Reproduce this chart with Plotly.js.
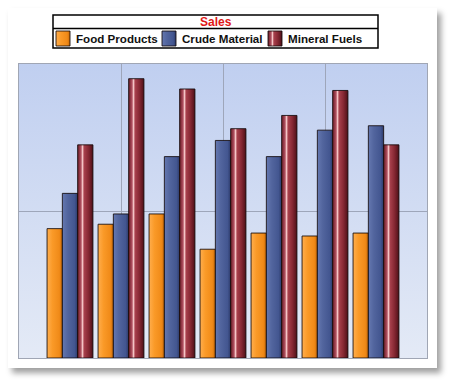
<!DOCTYPE html>
<html>
<head>
<meta charset="utf-8">
<script src="https://cdn.plot.ly/plotly-3.0.1.min.js"></script>
<style>
  html, body { margin: 0; padding: 0; background: #ffffff; }
  #wrap { position: relative; width: 450px; height: 384px; overflow: hidden; }
  #panel { position: absolute; left: 8px; top: 8px; width: 429px; height: 360px; background: #ffffff;
           box-shadow: 4px 5px 6px rgba(0,0,0,0.38); }
  #chart { position: absolute; left: 0; top: 0; width: 450px; height: 384px; }
</style>
</head>
<body>
<div id="wrap">
  <div id="panel"></div>
  <div id="chart"></div>
</div>
<script>
// ---- data ----
var categories = [1, 2, 3, 4, 5, 6, 7];
var seriesNames = ["Food Products", "Crude Material", "Mineral Fuels"];
var foodProducts = [88, 91, 98, 74, 85, 83, 85];
var crudeMaterial = [112, 98, 137, 148, 137, 155, 158];
var mineralFuels = [145, 190, 183, 156, 165, 182, 145];
var chartTitle = "Sales";

// ---- styles ----
var baseColors = ["#F7941E", "#4A5D96", "#8A2A35"];
var gradStops = [
  [[0, "#FFAE4E"], [0.35, "#FA9A28"], [0.8, "#F08A18"], [1, "#C86A08"]],
  [[0, "#6578B0"], [0.35, "#52659E"], [0.8, "#435690"], [1, "#2C3A6A"]],
  [[0, "#6A1A24"], [0.22, "#B05060"], [0.32, "#F6C8C8"], [0.42, "#A8404C"], [0.7, "#862833"], [1, "#4E1018"]]
];

function barTrace(name, values, i) {
  return {
    type: "bar",
    name: name,
    x: categories,
    y: values,
    marker: { color: baseColors[i], line: { color: "rgba(20,10,10,0.85)", width: 1 } },
    hoverinfo: "skip"
  };
}

var data = [
  barTrace(seriesNames[0], foodProducts, 0),
  barTrace(seriesNames[1], crudeMaterial, 1),
  barTrace(seriesNames[2], mineralFuels, 2)
];

var bgSvg = '<svg xmlns="http://www.w3.org/2000/svg" width="100" height="100" preserveAspectRatio="none">' +
  '<defs><linearGradient id="g" x1="0" y1="0" x2="0" y2="1">' +
  '<stop offset="0" stop-color="#C0CFF0"/><stop offset="1" stop-color="#E4EAF6"/>' +
  '</linearGradient></defs><rect width="100" height="100" fill="url(#g)"/></svg>';

// plot area: x 19..427 px, y 64..358 px
function px2x(p) { return (p - 19) / 408; }
function py2y(p) { return (358 - p) / 294; }

var layout = {
  width: 450,
  height: 384,
  margin: { l: 19, r: 23, t: 64, b: 26 },
  paper_bgcolor: "rgba(0,0,0,0)",
  plot_bgcolor: "rgba(0,0,0,0)",
  barmode: "group",
  bargap: 0.1,
  bargroupgap: 0,
  showlegend: true,
  font: { family: "Liberation Sans, Arial, sans-serif", color: "#000" },
  legend: {
    orientation: "h",
    x: px2x(43), xanchor: "left",
    y: py2y(38.5), yanchor: "middle",
    bgcolor: "rgba(0,0,0,0)",
    borderwidth: 0,
    entrywidth: 61,
    font: { size: 11.6, family: "Liberation Sans, Arial, sans-serif", weight: "bold", color: "#111" },
    itemclick: false,
    tracegroupgap: 0
  },
  xaxis: {
    range: [0, 8],
    dtick: 2,
    tick0: 0,
    showgrid: true,
    gridcolor: "#9EA6BA",
    gridwidth: 1,
    showticklabels: false,
    ticks: "",
    zeroline: false,
    showline: true,
    linecolor: "#A0A6B4",
    linewidth: 1,
    mirror: true,
    fixedrange: true
  },
  yaxis: {
    range: [0, 200],
    dtick: 100,
    tick0: 0,
    showgrid: true,
    gridcolor: "#9EA6BA",
    gridwidth: 1,
    showticklabels: false,
    ticks: "",
    zeroline: false,
    showline: true,
    linecolor: "#A0A6B4",
    linewidth: 1,
    mirror: true,
    fixedrange: true
  },
  images: [{
    source: "data:image/svg+xml;charset=utf-8," + encodeURIComponent(bgSvg),
    xref: "paper", yref: "paper",
    x: 0, y: 1, sizex: 1, sizey: 1,
    xanchor: "left", yanchor: "top",
    sizing: "stretch",
    layer: "below"
  }],
  shapes: [
    { type: "rect", xref: "paper", yref: "paper",
      x0: px2x(53), x1: px2x(378), y0: py2y(48), y1: py2y(15),
      line: { color: "#000", width: 1.5 }, fillcolor: "#FFFFFF", layer: "below" },
    { type: "line", xref: "paper", yref: "paper",
      x0: px2x(53), x1: px2x(378), y0: py2y(28.5), y1: py2y(28.5),
      line: { color: "#000", width: 1.5 } }
  ],
  annotations: [{
    text: chartTitle,
    xref: "paper", yref: "paper",
    x: px2x(215.5), y: py2y(21.8),
    xanchor: "center", yanchor: "middle",
    showarrow: false,
    font: { size: 12, color: "#E01818", family: "Liberation Sans, Arial, sans-serif", weight: "bold" }
  }]
};

Plotly.newPlot("chart", data, layout, { displayModeBar: false, staticPlot: true }).then(function (gd) {
  var svg = gd.querySelector("svg.main-svg");
  var ns = "http://www.w3.org/2000/svg";
  var defs = svg.querySelector("defs");
  if (!defs) { defs = document.createElementNS(ns, "defs"); svg.insertBefore(defs, svg.firstChild); }
  gradStops.forEach(function (stops, i) {
    var lg = document.createElementNS(ns, "linearGradient");
    lg.setAttribute("id", "barGrad" + i);
    lg.setAttribute("x1", "0"); lg.setAttribute("y1", "0");
    lg.setAttribute("x2", "1"); lg.setAttribute("y2", "0");
    stops.forEach(function (s) {
      var st = document.createElementNS(ns, "stop");
      st.setAttribute("offset", s[0]);
      st.setAttribute("stop-color", s[1]);
      lg.appendChild(st);
    });
    defs.appendChild(lg);
  });
  var traces = gd.querySelectorAll(".barlayer .trace");
  traces.forEach(function (t, i) {
    t.querySelectorAll(".point path").forEach(function (p) {
      p.style.fill = "url(#barGrad" + i + ")";
    });
  });
  var legend = gd.querySelector(".legend");
  if (legend) {
    legend.querySelectorAll("[clip-path]").forEach(function (el) { el.removeAttribute("clip-path"); });
  }
  var legendTraces = gd.querySelectorAll(".legend .traces");
  legendTraces.forEach(function (t, i) {
    t.querySelectorAll(".legendpoints path").forEach(function (p) {
      p.style.fill = "url(#barGrad" + i + ")";
      p.setAttribute("d", "M-7,-7.5H7V7.5H-7Z");
    });
    var txt = t.querySelector("text.legendtext");
    if (txt) {
      txt.setAttribute("x", "33");
      txt.querySelectorAll("tspan").forEach(function (ts) { if (ts.getAttribute("x")) ts.setAttribute("x", "33"); });
    }
  });
});
</script>
</body>
</html>
